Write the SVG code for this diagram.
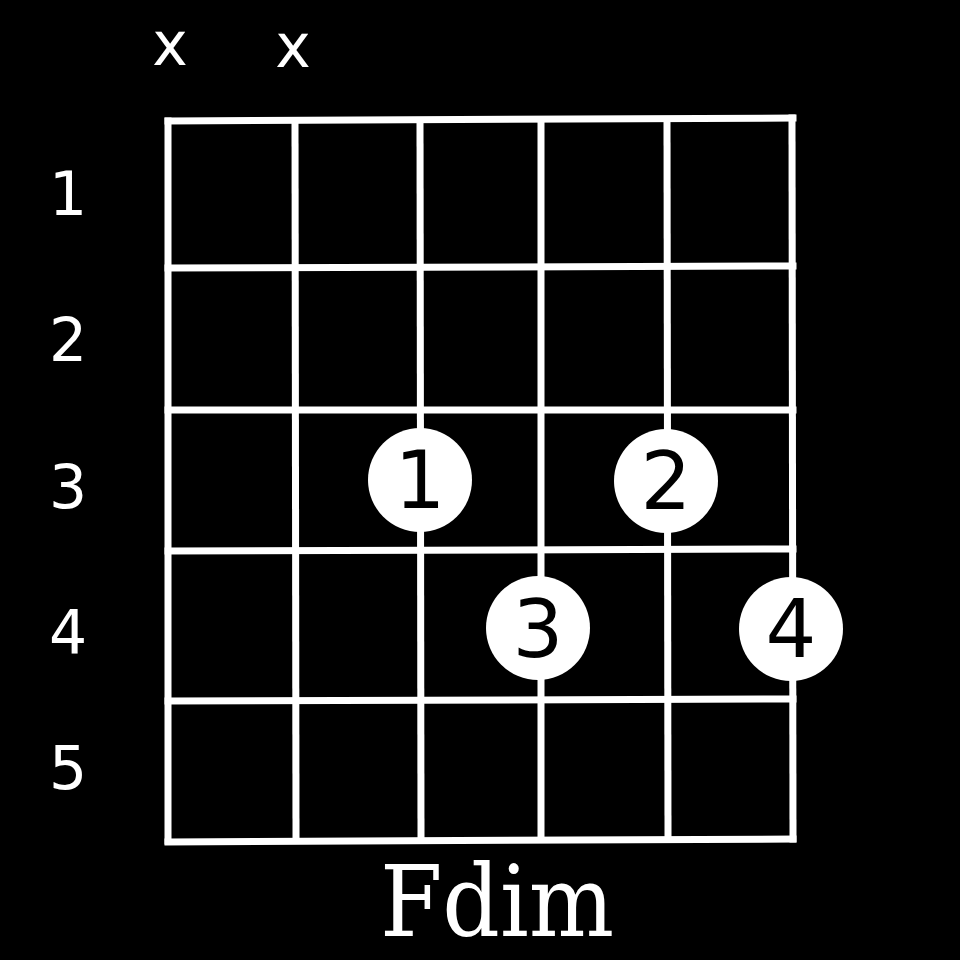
<svg xmlns="http://www.w3.org/2000/svg" width="960" height="960" viewBox="0 0 960 960">
<style>
.g{stroke:#fff;stroke-width:7;fill:none;stroke-linecap:square}
.lab{font-family:"DejaVu Sans",sans-serif;font-size:60px;fill:#fff;text-anchor:middle}
.dot{fill:#fff}
.fn{font-family:"DejaVu Sans",sans-serif;font-size:80px;fill:#000;text-anchor:middle}
.title{font-family:"DejaVu Serif","Liberation Serif",serif;font-stretch:condensed;font-size:100px;fill:#fff;text-anchor:middle}
</style>
<rect width="960" height="960" fill="#000"/>
<g id="grid">
<path class="g" d="M168 121 L168 841"/>
<path class="g" d="M295 121 L296 838"/>
<path class="g" d="M420 121 L421 838"/>
<path class="g" d="M541 120 L541 838"/>
<path class="g" d="M667 120 L668 837"/>
<path class="g" d="M792 118 L793 839"/>
<path class="g" d="M168 121 L793 118"/>
<path class="g" d="M168 268 L793 266"/>
<path class="g" d="M168 410 L793 410"/>
<path class="g" d="M168 551 L793 549"/>
<path class="g" d="M168 701 L793 699"/>
<path class="g" d="M168 842 L793 839"/>
</g>
<g id="muted">
<text class="lab" x="170" y="65">x</text>
<text class="lab" x="293" y="67">x</text>
</g>
<g id="frets">
<text class="lab" x="68" y="215">1</text>
<text class="lab" x="68" y="361">2</text>
<text class="lab" x="68" y="508">3</text>
<text class="lab" x="68" y="653">4</text>
<text class="lab" x="68" y="789">5</text>
</g>
<g id="f1"><circle class="dot" cx="420" cy="480" r="52"/><text class="fn" x="420" y="508">1</text></g>
<g id="f2"><circle class="dot" cx="666" cy="481" r="52"/><text class="fn" x="666" y="509">2</text></g>
<g id="f3"><circle class="dot" cx="538" cy="628" r="52"/><text class="fn" x="538" y="657">3</text></g>
<g id="f4"><circle class="dot" cx="791" cy="629" r="52"/><text class="fn" x="791" y="657">4</text></g>
<text class="title" x="497" y="936">Fdim</text>
</svg>
